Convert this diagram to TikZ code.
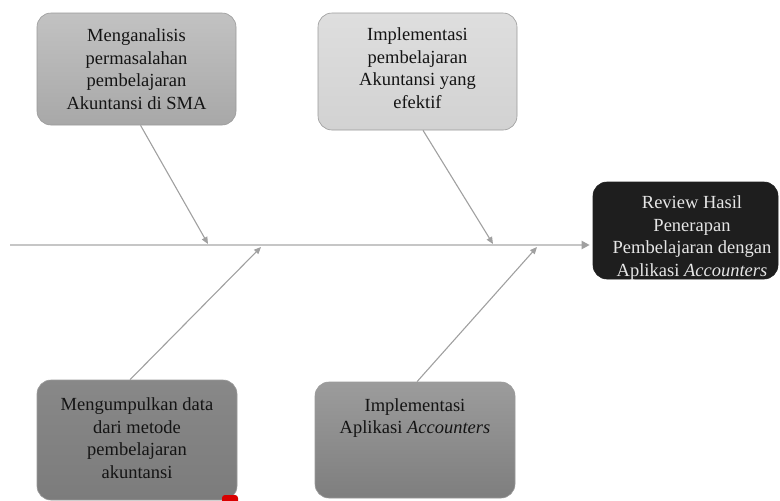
\documentclass[tikz,border=0pt]{standalone}
\usepackage{fontspec}
\setmainfont{Liberation Serif}
\usetikzlibrary{arrows.meta,shadings}
\definecolor{boxA}{HTML}{C2C2C2}
\definecolor{boxAb}{HTML}{A8A8A8}
\definecolor{boxB}{HTML}{DEDEDE}
\definecolor{boxBb}{HTML}{D2D2D2}
\definecolor{boxC}{HTML}{1E1E1E}
\definecolor{boxD}{HTML}{888888}
\definecolor{boxDb}{HTML}{7C7C7C}
\definecolor{boxE}{HTML}{9C9C9C}
\definecolor{boxEb}{HTML}{7E7E7E}
\definecolor{edge}{HTML}{9A9A9A}
\definecolor{arr}{HTML}{A0A0A0}
\definecolor{spinec}{HTML}{C6C6C6}
\definecolor{txt}{HTML}{141414}
\definecolor{txtw}{HTML}{E6E6E6}
\begin{document}
\begin{tikzpicture}[x=1pt,y=-1pt,
  boxshape/.style={draw=edge,line width=0.6pt,rounded corners=14pt,inner sep=0pt},
  lbl/.style={align=center,font=\fontsize{18.5}{22.5}\selectfont,text=txt,inner sep=0pt},
  feed/.style={draw=arr,line width=1.1pt,-{Triangle[length=7pt,width=6pt]}},
  spinest/.style={draw=spinec,line width=2pt,-{Triangle[length=8pt,width=8pt,color=arr]}}]
\useasboundingbox (0,0) rectangle (780,501);
% boxes
\node[boxshape,minimum width=199pt,minimum height=112pt,top color=boxA,bottom color=boxAb] (b1) at (136.5,69) {};
\node[boxshape,minimum width=199pt,minimum height=117pt,top color=boxB,bottom color=boxBb] (b2) at (417.5,71.5) {};
\node[boxshape,draw=boxC,fill=boxC,minimum width=185pt,minimum height=97pt] (b3) at (685.5,230.5) {};
\node[boxshape,minimum width=200pt,minimum height=120pt,top color=boxD,bottom color=boxDb] (b4) at (137,440) {};
\node[boxshape,minimum width=200pt,minimum height=116pt,top color=boxE,bottom color=boxEb] (b5) at (415,440) {};
% texts
\node[lbl] (t1) at (136.5,69) {Menganalisis\\permasalahan\\pembelajaran\\Akuntansi di SMA};
\node[lbl] (t2) at (417.5,68) {Implementasi\\pembelajaran\\Akuntansi yang\\efektif};
\node[lbl,text=txtw] (t3) at (692,238) {Review Hasil\\Penerapan\\Pembelajaran dengan\\Aplikasi \textit{Accounters}};
\node[lbl] (t4) at (137,438) {Mengumpulkan data\\dari metode\\pembelajaran\\akuntansi};
\node[lbl] (t5) at (415,418) {Implementasi\\Aplikasi \textit{Accounters}};
% small red mark
\fill[red!85!black,rounded corners=3pt] (222,495) rectangle (238,507);
% spine
\coordinate (tail) at (10,245);
\draw[spinest,shorten >=3pt] (tail) -- (b3.west |- tail);
% feeder arrows
\coordinate (e1) at (208,244);
\coordinate (e2) at (493,244);
\coordinate (e4) at (261,247);
\coordinate (e5) at (537,247);
\draw[feed] ([xshift=4pt]b1.south) -- (e1);
\draw[feed] ([xshift=5.5pt]b2.south) -- (e2);
\draw[feed] ([xshift=-7pt]b4.north) -- (e4);
\draw[feed] ([xshift=2pt]b5.north) -- (e5);
\end{tikzpicture}
\end{document}
